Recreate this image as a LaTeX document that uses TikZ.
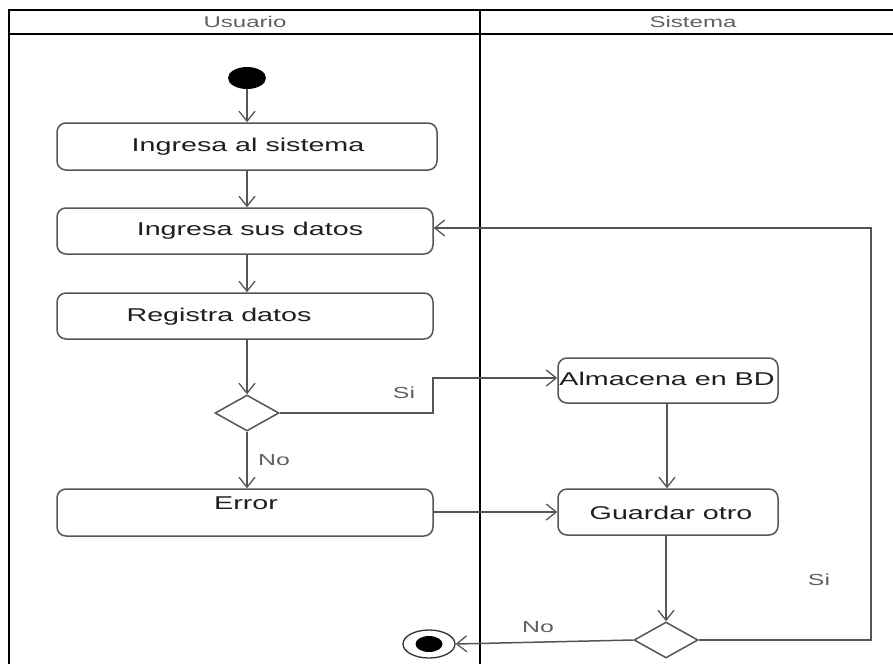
\documentclass[tikz,border=0pt]{standalone}
\usepackage{fontspec}
\setmainfont{Liberation Sans}
\usetikzlibrary{shapes.geometric,arrows.meta}
\newcommand{\wide}[1]{\scalebox{1.55}[1]{#1}}
\definecolor{linegray}{HTML}{555555}
\definecolor{textgray}{HTML}{606060}
\tikzset{
  lane/.style={draw=black,line width=2.4pt},
  actbox/.style={draw=linegray,line width=1.5pt,rounded corners=9pt,fill=white,inner sep=0pt},
  boxtext/.style={text=black!88,font=\fontsize{18.5}{20}\selectfont,inner sep=0pt},
  headtext/.style={text=textgray,font=\fontsize{15.5}{17}\selectfont,inner sep=0pt},
  guard/.style={text=textgray,font=\fontsize{16}{18}\selectfont,inner sep=0pt},
  flow/.style={draw=linegray,line width=1.5pt,-{Straight Barb[length=10pt,width=16pt,line width=1.3pt]}},
  decision/.style={diamond,draw=linegray,line width=1.5pt,fill=white,minimum width=64pt,minimum height=36pt,inner sep=0pt},
}
\begin{document}
\begin{tikzpicture}[x=1pt,y=-1pt]
\useasboundingbox (0,0) rectangle (893,664);
% swimlanes
\draw[lane] (9,664) -- (9,10) -- (893,10);
\draw[lane] (9,34) -- (893,34);
\draw[lane] (480,10) -- (480,664);
\node[headtext] (hu) at (245,22) {\wide{Usuario}};
\node[headtext] (hs) at (693,22) {\wide{Sistema}};
% nodes
\node[ellipse,fill=black,minimum width=38pt,minimum height=22pt,inner sep=0pt] (start) at (247,78) {};
\node[actbox,minimum width=380pt,minimum height=47pt] (b1) at (247,146.5) {};
\node[boxtext] (t1) at (248,147) {\wide{Ingresa al sistema}};
\node[actbox,minimum width=376pt,minimum height=46pt] (b2) at (245,231) {};
\node[boxtext] (t2) at (250,231) {\wide{Ingresa sus datos}};
\node[actbox,minimum width=376pt,minimum height=46pt] (b3) at (245,316) {};
\node[boxtext] (t3) at (219,317) {\wide{Registra datos}};
\node[decision] (d1) at (247,413) {};
\node[actbox,minimum width=376pt,minimum height=47pt] (err) at (245,512.5) {};
\node[boxtext] (t4) at (246,503) {\wide{Error}};
\node[actbox,minimum width=220pt,minimum height=45pt] (alm) at (668,380.5) {};
\node[boxtext] (t5) at (667,379) {\wide{Almacena en BD}};
\node[actbox,minimum width=220pt,minimum height=46pt] (gu) at (668,512) {};
\node[boxtext] (t6) at (671,513) {\wide{Guardar otro}};
\node[decision] (d2) at (666,640) {};
\node[ellipse,draw=black!80,line width=1.3pt,minimum width=52pt,minimum height=28pt,inner sep=0pt] (fin) at (429,644) {};
\fill[black] (fin.center) ellipse (13.5 and 8);
% connectors
\draw[flow] (start.south) -- (b1.north -| start.south);
\draw[flow] (b1.south -| start.south) -- (b2.north -| start.south);
\draw[flow] (b2.south -| start.south) -- (b3.north -| start.south);
\draw[flow] (b3.south -| d1.north) -- (d1.north);
\draw[flow] (d1.south) -- (err.north -| d1.south);
\draw[flow] (d1.east) -- (433,413) -- (433,378) -- (alm.west |- 0,378);
\draw[flow] (err.east |- 0,512) -- (gu.west |- 0,512);
\draw[flow] (alm.south -| 667,0) -- (gu.north -| 667,0);
\draw[flow] (gu.south -| d2.north) -- (d2.north);
\draw[flow] (d2.west) -- (fin.east);
\draw[flow] (d2.east) -- (871,640) -- (871,228) -- (b2.east |- 0,228);
% guards
\node[guard] (g1) at (404,393) {\wide{Si}};
\node[guard] (g2) at (274,460) {\wide{No}};
\node[guard] (g3) at (819,580) {\wide{Si}};
\node[guard] (g4) at (538,627) {\wide{No}};
\end{tikzpicture}
\end{document}
